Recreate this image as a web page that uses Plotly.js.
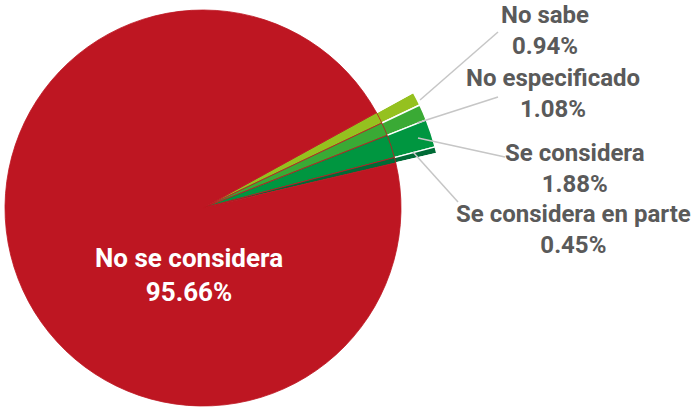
<!DOCTYPE html>
<html>
<head>
<meta charset="utf-8">
<script src="https://cdn.plot.ly/plotly-3.0.1.min.js"></script>
<style>
html, body { margin: 0; padding: 0; overflow: hidden; width: 692px; height: 409px; background: #fff; }
#chart { position: absolute; left: -40px; top: -40px; width: 732px; height: 489px; }
</style>
</head>
<body>
<div id="chart"></div>
<script>
// ---- data ----
const labels = ['No sabe', 'No especificado', 'Se considera', 'Se considera en parte', 'No se considera'];
const values = [0.94, 1.08, 1.88, 0.45, 95.66];
const valueText = ['0.94%', '1.08%', '1.88%', '0.45%', '95.66%'];

// ---- style ----
const sliceColors = ['#95C11F', '#3AAA35', '#009640', '#006B36', '#BE1622'];
const W = 732, H = 489, OFF = 40;
const FONT = 'Roboto, "Open Sans", sans-serif';
const GRAY = '#5a5a5a';

function px(x, y) { return { x: (x + OFF) / W, y: 1 - (y + OFF) / H }; }

// visible-coordinate center and radii
const cx = 203 + OFF, cy = 208 + OFF;
function domainFor(r) {
  return { x: [(cx - r) / W, (cx + r) / W], y: [1 - (cy + r) / H, 1 - (cy - r) / H] };
}

const rot = 61.2;
const outerColors = sliceColors.map((c, i) => i === sliceColors.length - 1 ? 'rgba(0,0,0,0)' : c);

const traces = [
  {
    type: 'pie', labels: labels, values: values, sort: false, direction: 'clockwise',
    rotation: rot, domain: domainFor(240), textinfo: 'none', hoverinfo: 'skip',
    marker: { colors: outerColors, line: { color: '#ffffff', width: 1.4 } }
  },
  {
    type: 'pie', labels: labels, values: values, sort: false, direction: 'clockwise',
    rotation: rot, domain: domainFor(198), textinfo: 'none', hoverinfo: 'skip',
    marker: { colors: sliceColors, line: { color: sliceColors[4], width: 0.8 } }
  }
];

// label positions (visible px) : center of text block
const labelPos = [[545, 31], [553, 93], [575, 168], [573, 229], [189, 275]];
const annotations = labels.map((l, i) => {
  const p = px(labelPos[i][0], labelPos[i][1]);
  return {
    xref: 'paper', yref: 'paper', x: p.x, y: p.y, xanchor: 'center', yanchor: 'middle',
    showarrow: false, align: 'center',
    text: '<b>' + l + '<br>' + valueText[i] + '</b>',
    font: { family: FONT, size: i === 4 ? 26 : 24, color: i === 4 ? '#ffffff' : GRAY }
  };
});

const leaders = [[[420, 100], [498, 32]], [[417, 123], [498, 97]], [[418, 138], [505, 157]], [[413, 152], [458, 202]]];
const shapes = leaders.map(s => {
  const a = px(s[0][0], s[0][1]), b = px(s[1][0], s[1][1]);
  return { type: 'line', xref: 'paper', yref: 'paper', x0: a.x, y0: a.y, x1: b.x, y1: b.y,
           line: { color: '#c6c6c6', width: 1.5 } };
});

const layout = {
  width: W, height: H, margin: { l: 0, r: 0, t: 0, b: 0, pad: 0 },
  showlegend: false, paper_bgcolor: '#ffffff',
  annotations: annotations, shapes: shapes
};

Plotly.newPlot('chart', traces, layout, { displayModeBar: false, staticPlot: true });
</script>
</body>
</html>
